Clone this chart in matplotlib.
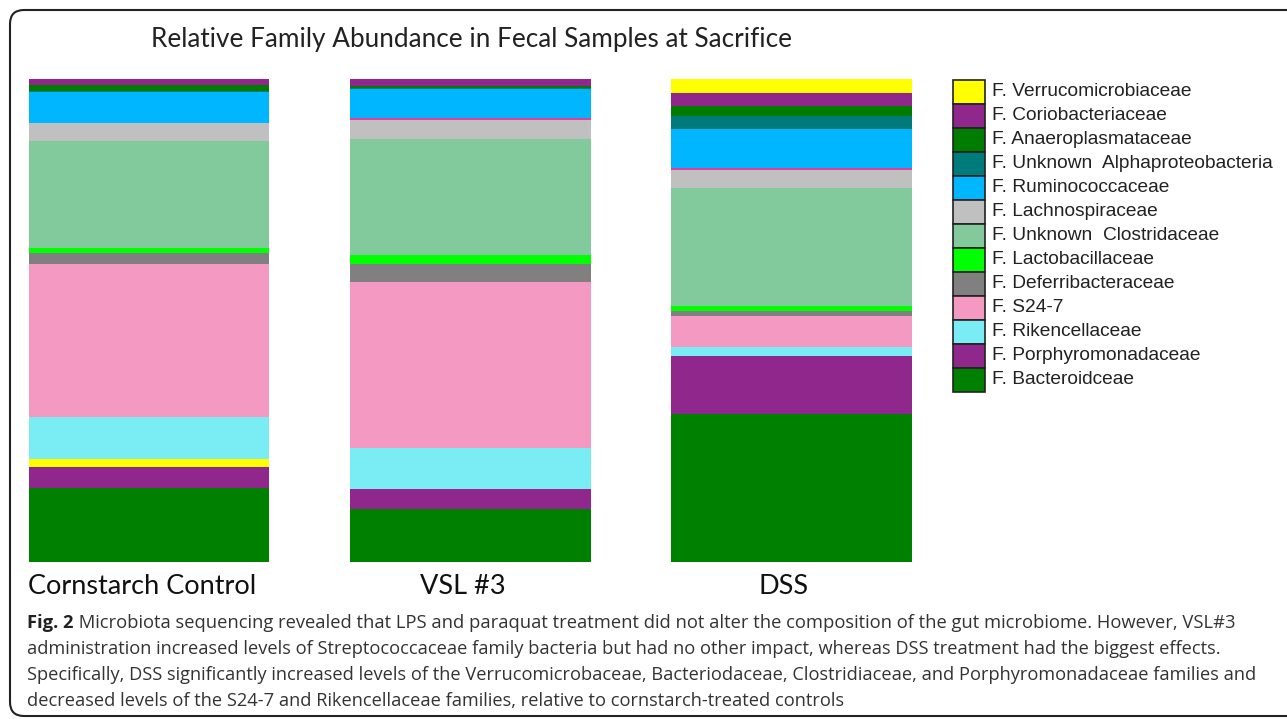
import matplotlib
matplotlib.use("Agg")
from matplotlib import pyplot as plt
from matplotlib.patches import Rectangle, FancyBboxPatch
from matplotlib.transforms import IdentityTransform
import numpy as np

W, H = 1287, 719

samples = ["Cornstarch Control", "VSL #3", "DSS"]

# stacking order, bottom to top (percent of total reads)
bacteroidceae        = [15.4, 11.05, 30.6]
porphyromonadaceae   = [4.35, 4.15, 11.95]
unlisted_yellow      = [1.65, 0.0, 0.0]
rikencellaceae       = [8.6, 8.35, 1.86]
s24_7                = [31.75, 34.45, 6.57]
deferribacteraceae   = [2.3, 3.8, 1.04]
lactobacillaceae     = [1.05, 1.8, 0.89]
unknown_clostridaceae = [22.1, 23.95, 24.45]
lachnospiraceae      = [3.6, 4.0, 3.79]
unlisted_magenta     = [0.0, 0.35, 0.41]
ruminococcaceae      = [6.5, 5.95, 8.08]
unknown_alphaproteo  = [0.2, 0.27, 2.76]
anaeroplasmataceae   = [1.25, 0.48, 1.93]
coriobacteriaceae    = [1.25, 1.39, 2.76]
verrucomicrobiaceae  = [0.0, 0.0, 2.9]

stack = [
    (bacteroidceae, "#008000", "F. Bacteroidceae"),
    (porphyromonadaceae, "#90278c", "F. Porphyromonadaceae"),
    (unlisted_yellow, "#ffff00", None),
    (rikencellaceae, "#7aecf4", "F. Rikencellaceae"),
    (s24_7, "#f49ac2", "F. S24-7"),
    (deferribacteraceae, "#808080", "F. Deferribacteraceae"),
    (lactobacillaceae, "#00ff00", "F. Lactobacillaceae"),
    (unknown_clostridaceae, "#82c99b", "F. Unknown  Clostridaceae"),
    (lachnospiraceae, "#c0c0c0", "F. Lachnospiraceae"),
    (unlisted_magenta, "#e0409c", None),
    (ruminococcaceae, "#00b6ff", "F. Ruminococcaceae"),
    (unknown_alphaproteo, "#007b7b", "F. Unknown  Alphaproteobacteria"),
    (anaeroplasmataceae, "#007c00", "F. Anaeroplasmataceae"),
    (coriobacteriaceae, "#90278c", "F. Coriobacteriaceae"),
    (verrucomicrobiaceae, "#ffff00", "F. Verrucomicrobiaceae"),
]

title = "Relative Family Abundance in Fecal Samples at Sacrifice"
caption_bold = "Fig. 2"
caption = [
    " Microbiota sequencing revealed that LPS and paraquat treatment did not alter the composition of the gut microbiome. However, VSL#3",
    "administration increased levels of Streptococcaceae family bacteria but had no other impact, whereas DSS treatment had the biggest effects.",
    "Specifically, DSS significantly increased levels of the Verrucomicrobaceae, Bacteriodaceae, Clostridiaceae, and Porphyromonadaceae families and",
    "decreased levels of the S24-7 and Rikencellaceae families, relative to cornstarch-treated controls",
]


def fx(px):
	return px / W
def fy(py):
	return 1 - py / H


fig = plt.figure(figsize=(W / 100, H / 100), dpi=100)

# axes placed so bars land at the same pixels as the reference
ax = fig.add_axes([fx(28.6), fy(562), fx(911.75) - fx(28.6), (562 - 79) / H])
x = np.arange(len(samples))
bottom = np.zeros(len(samples))
for vals, col, lab in stack:
	v = np.array(vals)
	ax.bar(x, v, width=0.75, bottom=bottom, color=col, linewidth=0)
	bottom += v
ax.set_xlim(-0.375, 2.375)
ax.set_ylim(0, 100)
ax.axis("off")

# sample names sit a little left of the bar centres in the original
for i, s in enumerate(samples):
	fig.text(fx(28.6 + (i + 0.375) * 321 - 7), fy(587), s, ha="center", va="center",
		fontsize=19.5, family="Lato", color="#111111")

fig.text(fx(151), fy(40), title, ha="left", va="center", fontsize=18.8, family="Lato", color="#222222")

# legend, drawn as boxes next to the bars
leg = [(col, lab) for vals, col, lab in stack if lab is not None][::-1]
for k, (col, lab) in enumerate(leg):
	top = 80 + k * 24
	fig.add_artist(Rectangle((fx(953), fy(top + 24)), fx(985) - fx(953), 24 / H,
		transform=fig.transFigure, facecolor=col, edgecolor="#222222", linewidth=1.2))
	fig.text(fx(992), fy(top + 12), lab, ha="left", va="center", fontsize=13.8,
		family="Liberation Sans", color="#222222")

# caption
ys = [623, 649, 675, 701]
b = fig.text(fx(27), fy(ys[0]), caption_bold, ha="left", va="center", fontsize=13.25,
	family="Open Sans", weight="bold", color="#222222")
fig.canvas.draw()
bb = b.get_window_extent()
fig.text((bb.x1) / W, fy(ys[0]), caption[0], ha="left", va="center", fontsize=13.25,
	family="Open Sans", color="#333333")
for line, yy in zip(caption[1:], ys[1:]):
	fig.text(fx(27), fy(yy), line, ha="left", va="center", fontsize=13.15,
		family="Open Sans", color="#333333")

# rounded frame around the whole figure panel
frame = FancyBboxPatch((10, 3), 1310, 706, boxstyle="round,pad=0,rounding_size=14",
	transform=IdentityTransform(), facecolor="none", edgecolor="#222222", linewidth=1.5)
fig.add_artist(frame)

fig.savefig("out.png", dpi=100)
